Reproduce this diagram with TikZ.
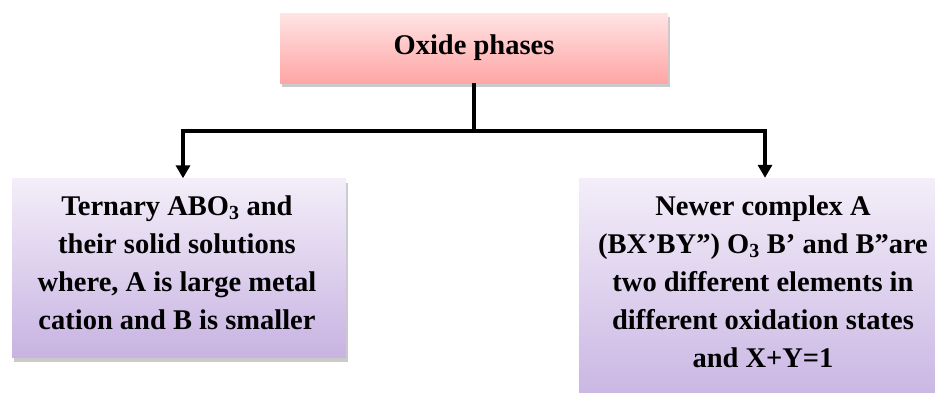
\documentclass[tikz,border=0pt]{standalone}
\usepackage{fontspec}
\setmainfont{Liberation Serif}
\usetikzlibrary{arrows.meta, shadows}

\definecolor{pinktop}{HTML}{FFE4E4}
\definecolor{pinkbot}{HTML}{FFA5A5}
\definecolor{lilactop}{HTML}{F3EEF9}
\definecolor{lilacbot}{HTML}{C8B3E2}

\begin{document}
\begin{tikzpicture}[
    x=1pt, y=-1pt,
    >={Triangle[width=14pt, length=13pt]}, % Set default arrow tip style
    txt/.style={align=center, font=\bfseries\fontsize{28.5}{38}\selectfont},
    box/.style={draw=none,
        drop shadow={shadow xshift=2pt, shadow yshift=-4pt, fill=black!35, opacity=0.6}},
    headbox/.style={box, txt, top color=pinktop, bottom color=pinkbot},
    leafbox/.style={box, top color=lilactop, bottom color=lilacbot},
    conn/.style={line width=3.4pt}
]

% Page size
\clip (0,0) rectangle (935,392);

% Top box
\node[headbox, minimum width=388pt, minimum height=70pt] (oxide) at (474,48) {Oxide phases};

% Left box
\node[leafbox, minimum width=334pt, minimum height=179pt] (ternary) at (179,268) {};
\node[txt, anchor=north] (ternarytxt) at (177,192)
    {Ternary ABO\textsubscript{3} and\\their solid solutions\\where, A is large metal\\cation and B is smaller};

% Right box (runs off the page)
\node[leafbox, minimum width=372pt, minimum height=230pt] (complex) at (765,293) {};
\node[txt, anchor=north] (complextxt) at (763,192)
    {Newer complex A\\(BX'BY'') O\textsubscript{3} B' and B''are\\two different elements in\\different oxidation states\\and X+Y=1};

% Connectors
\coordinate (split) at (474,131);
\draw[conn] (oxide.south) -- (split);
\draw[conn, ->] (split) -| ([xshift=4pt]ternary.north);
\draw[conn, ->] (split) -| (complex.north);

\end{tikzpicture}
\end{document}
